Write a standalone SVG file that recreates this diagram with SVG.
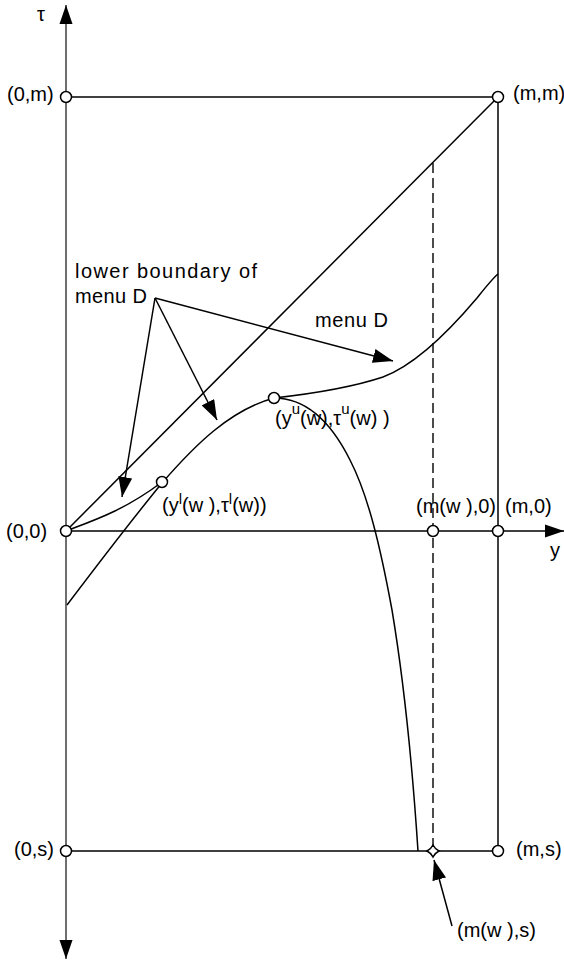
<svg xmlns="http://www.w3.org/2000/svg" width="564" height="962" viewBox="0 0 564 962">
<style>
.ln{stroke:#000;stroke-width:1.5;fill:none}
.ax{stroke:#4a4a4a;stroke-width:1.6;fill:none}
.dash{stroke:#000;stroke-width:1.4;fill:none;stroke-dasharray:10,5}
.pt{fill:#fff;stroke:#000;stroke-width:1.5}
text{font-family:"Liberation Sans",Arial,sans-serif;font-size:20px;fill:#000}
.sup{font-size:15px}
</style>
<defs>
<marker id="ah" markerUnits="userSpaceOnUse" markerWidth="22" markerHeight="14" refX="20" refY="7" orient="auto"><path d="M0,0 L20,7 L0,14 z" fill="#000"/></marker>
<marker id="axh" markerUnits="userSpaceOnUse" markerWidth="20" markerHeight="14" refX="19" refY="7" orient="auto"><path d="M0,0.5 L19,7 L0,13.5 z" fill="#000"/></marker>
</defs>
<rect width="564" height="962" fill="#fff"/>
<g id="connectors">
<line class="ax" x1="66" y1="531" x2="66" y2="5" marker-end="url(#axh)"/>
<line class="ax" x1="66" y1="531" x2="66" y2="959" marker-end="url(#axh)"/>
<line class="ln" x1="66" y1="531" x2="564" y2="531" marker-end="url(#axh)"/>
<line class="ln" x1="66" y1="97" x2="498" y2="97"/>
<line class="ln" x1="66" y1="851" x2="498" y2="851"/>
<line class="ln" x1="498" y1="97" x2="498" y2="851"/>
<line class="ln" x1="66" y1="531" x2="498" y2="97"/>
<line class="dash" x1="433" y1="163" x2="433" y2="845"/>
<path class="ln" d="M66,531 C95,520 125,510 162,482"/>
<path class="ln" d="M67,605 C95,568 130,522 162,483 C195,445 230,410 274,398"/>
<path class="ln" d="M274,398 C305,398 330,420 350,460 C368,495 380,545 392,610 C402,670 412,760 418,851"/>
<path class="ln" d="M274,398 C310,394 350,388 383,377 C415,365 450,330 477,298 C485,288 492,279 498,274"/>
<line class="ln" x1="155" y1="298" x2="122" y2="497" marker-end="url(#ah)"/>
<line class="ln" x1="155" y1="298" x2="217" y2="420" marker-end="url(#ah)"/>
<line class="ln" x1="155" y1="298" x2="393" y2="361" marker-end="url(#ah)"/>
<line class="ln" x1="452" y1="926" x2="434" y2="860" marker-end="url(#ah)"/>
</g>
<g id="axis-tau"><text x="37" y="21">τ</text></g>
<g id="axis-y"><text x="550" y="557">y</text></g>
<g id="p-0m"><circle class="pt" cx="66" cy="97" r="5.5"/><text x="7" y="101">(0,m)</text></g>
<g id="p-mm"><circle class="pt" cx="498" cy="97" r="5.5"/><text x="513" y="100">(m,m)</text></g>
<g id="p-00"><circle class="pt" cx="66" cy="531" r="5.5"/><text x="6" y="538">(0,0)</text></g>
<g id="p-mw0"><circle class="pt" cx="433" cy="531" r="5.5"/><text x="416" y="513">(m(w ),0)</text></g>
<g id="p-m0"><circle class="pt" cx="498" cy="531" r="5.5"/><text x="505" y="513">(m,0)</text></g>
<g id="p-0s"><circle class="pt" cx="66" cy="851" r="5.5"/><text x="14" y="856">(0,s)</text></g>
<g id="p-mws"><path class="pt" d="M433,845 Q435,849 439,851 Q435,853 433,857 Q431,853 427,851 Q431,849 433,845 z"/><text x="457" y="937">(m(w ),s)</text></g>
<g id="p-ms"><circle class="pt" cx="498" cy="851" r="5.5"/><text x="516" y="856">(m,s)</text></g>
<g id="p-yl"><circle class="pt" cx="162" cy="482" r="5.5"/><text x="162" y="512">(y<tspan class="sup" dy="-8">l</tspan><tspan dy="8">(w ),τ</tspan><tspan class="sup" dy="-8">l</tspan><tspan dy="8">(w))</tspan></text></g>
<g id="p-yu"><circle class="pt" cx="274" cy="398" r="5.5"/><text x="275" y="425">(y<tspan class="sup" dy="-11">u</tspan><tspan dy="11">(w),τ</tspan><tspan class="sup" dy="-11">u</tspan><tspan dy="11">(w) )</tspan></text></g>
<g id="label-lower"><text x="75" y="278" textLength="182" lengthAdjust="spacing">lower boundary of</text><text x="75" y="303" textLength="72" lengthAdjust="spacing">menu D</text></g>
<g id="label-menu"><text x="315" y="327" textLength="73" lengthAdjust="spacing">menu D</text></g>
</svg>
